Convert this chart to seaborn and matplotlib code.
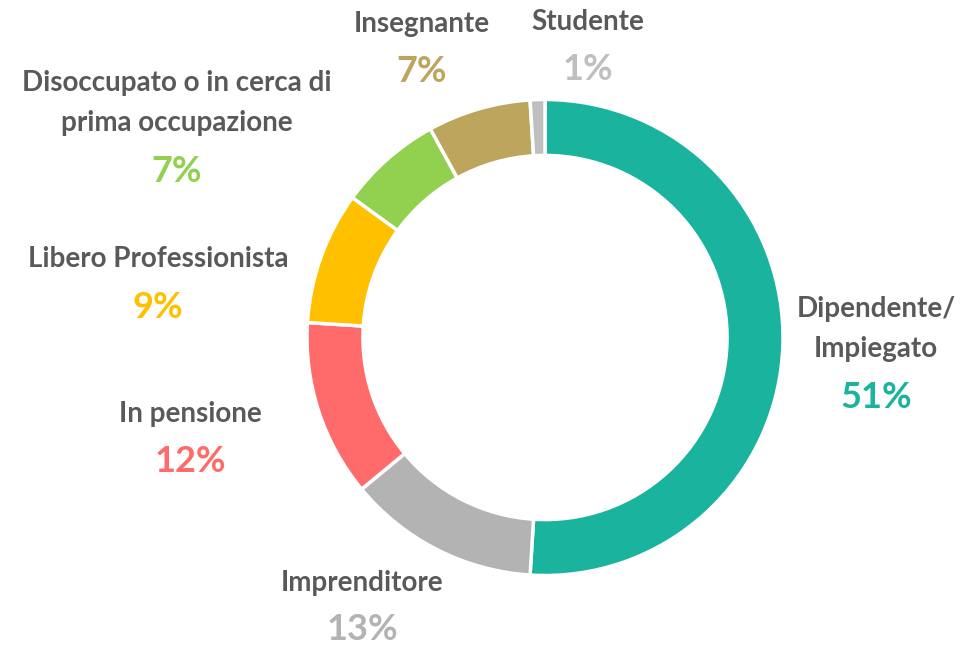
import matplotlib
matplotlib.use("Agg")
import matplotlib.pyplot as plt
import seaborn as sns

# data
categories = ["Dipendente/\nImpiegato", "Imprenditore", "In pensione", "Libero Professionista",
              "Disoccupato o in cerca di\nprima occupazione", "Insegnante", "Studente"]
values = [51, 13, 12, 9, 7, 7, 1]
colors = ["#1AB39E", "#B3B3B3", "#FF6B6B", "#FFC000", "#92D050", "#BDA55E", "#BFBFBF"]

# label anchor points (pixel coords in the 966x647 image) - layout only
label_pos = [(876, 329), (362, 583), (190, 414), (158, 259), (177, 103), (422, 24), (588, 22)]
pct_pos = [(876, 398), (362, 630), (190, 462), (158, 307), (177, 172), (422, 71), (588, 70)]

sns.set_theme(style="white")
plt.rcParams["font.family"] = ["Lato", "DejaVu Sans"]

W, H = 966, 647
cx, cy, R = 545, 337.5, 238.0

fig = plt.figure(figsize=(W / 100, H / 100), dpi=100)
ax = fig.add_axes([0, 0, 1, 1])

ax.pie(values, colors=colors, startangle=90, counterclock=False, radius=1.0,
       wedgeprops=dict(width=0.235, edgecolor="white", linewidth=2.5))

ax.set_aspect("auto")
ax.set_xlim(-cx / R, (W - cx) / R)
ax.set_ylim((cy - H) / R, cy / R)
ax.axis("off")


def to_data(px, py):
    return (px - cx) / R, (cy - py) / R


for name, val, col, lp, pp in zip(categories, values, colors, label_pos, pct_pos):
    x, y = to_data(*lp)
    ax.text(x, y, name, ha="center", va="center", fontsize=20, fontweight="bold",
            color="#595959", linespacing=1.65)
    x, y = to_data(*pp)
    ax.text(x, y, f"{val}%", ha="center", va="center", fontsize=26, fontweight="bold",
            color=col)

fig.savefig("out.png", dpi=100)
